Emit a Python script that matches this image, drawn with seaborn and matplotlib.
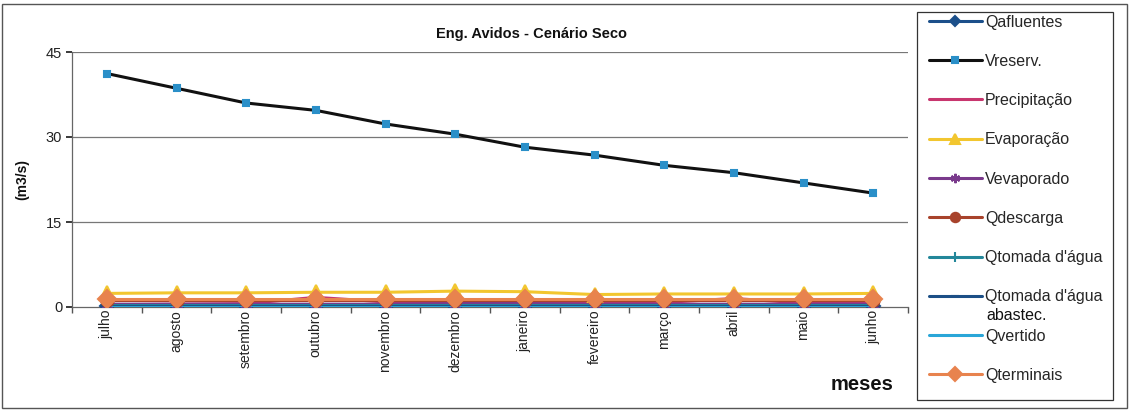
import numpy as np
import pandas as pd
import matplotlib
matplotlib.use("Agg")
import matplotlib.pyplot as plt
import seaborn as sns
from matplotlib.patches import Rectangle

meses = ["julho", "agosto", "setembro", "outubro", "novembro", "dezembro",
         "janeiro", "fevereiro", "março", "abril", "maio", "junho"]

qafluentes = [0.1, 0.1, 0.1, 0.1, 0.1, 0.1, 0.1, 0.1, 0.1, 0.1, 0.1, 0.1]
vreserv = [41.2, 38.6, 36.0, 34.7, 32.3, 30.5, 28.2, 26.8, 25.0, 23.7, 21.9, 20.1]
precipitacao = [0.4, 0.5, 0.6, 1.7, 0.9, 0.9, 0.9, 0.8, 0.8, 1.5, 0.7, 0.6]
evaporacao = [2.4, 2.5, 2.5, 2.6, 2.6, 2.8, 2.7, 2.2, 2.3, 2.3, 2.3, 2.4]
vevaporado = [0.5, 0.5, 0.5, 0.5, 0.5, 0.6, 0.6, 0.5, 0.5, 0.5, 0.5, 0.5]
qdescarga = [1.2, 1.2, 1.2, 1.2, 1.2, 1.2, 1.2, 1.2, 1.2, 1.2, 1.2, 1.2]
qtomada = [0.3, 0.3, 0.3, 0.3, 0.3, 0.3, 0.3, 0.3, 0.3, 0.3, 0.3, 0.3]
qtomada_abast = [0.2, 0.2, 0.2, 0.2, 0.2, 0.2, 0.2, 0.2, 0.2, 0.2, 0.2, 0.2]
qvertido = [0.0, 0.0, 0.0, 0.0, 0.0, 0.0, 0.0, 0.0, 0.0, 0.0, 0.0, 0.0]
qterminais = [1.4, 1.4, 1.4, 1.4, 1.4, 1.4, 1.4, 1.4, 1.4, 1.4, 1.4, 1.4]

sns.set_theme(style="white")
plt.rcParams["font.family"] = ["Liberation Sans", "DejaVu Sans"]

# name, values, line colour, marker, marker face, marker size, zorder
series = [
    ("Qafluentes", qafluentes, "#1b4f8a", "D", "#1b4f8a", 7, 3),
    ("Vreserv.", vreserv, "#111111", "s", "#2a8fc8", 5, 10),
    ("Precipitação", precipitacao, "#c8366e", "None", "#c8366e", 0, 4),
    ("Evaporação", evaporacao, "#f2c62f", "^", "#f2c62f", 10, 5),
    ("Vevaporado", vevaporado, "#7a3a8c", (6, 2, 0), "#7a3a8c", 9, 4),
    ("Qdescarga", qdescarga, "#a8432c", "o", "#a8432c", 9, 6),
    ("Qtomada d'água", qtomada, "#23879a", "|", "#23879a", 10, 4),
    ("Qtomada d'água", qtomada_abast, "#1c4f86", "_", "#1c4f86", 8, 4),
    ("Qvertido", qvertido, "#2aa6d8", "None", "#2aa6d8", 0, 4),
    ("Qterminais", qterminais, "#e8834e", "D", "#e8834e", 9, 7),
]

W, H = 1131, 412
fig = plt.figure(figsize=(W / 100, H / 100), dpi=100)
ax = fig.add_axes([72 / W, 1 - 307 / H, (908 - 72) / W, (307 - 52) / H])

handles = []
for name, vals, color, marker, face, ms, z in series:
    df = pd.DataFrame({"mês": meses, "valor": vals})
    sns.lineplot(data=df, x="mês", y="valor", ax=ax, color=color, lw=2.2,
                 marker=marker, markersize=ms, markerfacecolor=face,
                 markeredgecolor=face if marker not in ("|", "_", (6, 2, 0)) else color,
                 markeredgewidth=1.5, zorder=z, sort=False)
    handles.append(ax.lines[-1])

ax.set_xlim(-0.5, len(meses) - 0.5)
ax.set_ylim(0, 45)
ax.set_yticks([0, 15, 30, 45])
ax.set_xticks(range(len(meses)))
ax.set_xticklabels(meses, rotation=90, fontsize=10, color="#222222")
ax.tick_params(axis="y", labelsize=10.5, colors="#222222", length=4, direction="out",
               left=True, pad=3)
ax.tick_params(axis="x", length=0, pad=2)
# minor ticks between the categories on the x axis
ax.set_xticks(np.arange(-0.5, len(meses), 1), minor=True)
ax.tick_params(axis="x", which="minor", length=4, direction="out", bottom=True,
               color="#555555")
ax.grid(False)
for yv in (15, 30, 45):
    ax.axhline(yv, color="#777777", lw=0.9, zorder=0)
for s in ("top", "right"):
    ax.spines[s].set_visible(False)
for s in ("left", "bottom"):
    ax.spines[s].set_color("#666666")
    ax.spines[s].set_linewidth(0.9)
ax.set_xlabel("")
ax.set_ylabel("")

labels = [s[0] for s in series]
leg = fig.legend(handles, labels, loc="upper left",
                 bbox_to_anchor=(929 / W, 1 - 14.5 / H), fontsize=11.5,
                 frameon=False, labelspacing=1.52, handlelength=3.3,
                 handletextpad=0.2, borderpad=0, borderaxespad=0,
                 markerscale=0.75)
# second line of the "Qtomada d'água abastec." entry
fig.text(986 / W, 1 - 316 / H, "abastec.", ha="left", va="center",
         fontsize=11.5, color="#111111")
# legend frame
fig.patches.append(Rectangle((917 / W, 1 - 400 / H), (1113 - 917) / W, (400 - 12) / H,
                             transform=fig.transFigure, fill=False,
                             edgecolor="#333333", lw=0.9))

fig.text(532 / W, 1 - 34 / H, "Eng. Avidos - Cenário Seco", ha="center",
         va="center", fontsize=10.5, fontweight="bold", color="#111111")
fig.text(22 / W, 1 - 180 / H, "(m3/s)", rotation=90, ha="center", va="center",
         fontsize=10, fontweight="bold", color="#111111")
fig.text(862 / W, 1 - 385 / H, "meses", ha="center", va="center",
         fontsize=14.5, fontweight="bold", color="#111111")

fig.patches.append(Rectangle((2 / W, 4 / H), 1 - 6 / W, 1 - 8 / H,
                             transform=fig.transFigure, fill=False,
                             edgecolor="#555555", lw=1.0))

fig.savefig("out.png", dpi=100)
